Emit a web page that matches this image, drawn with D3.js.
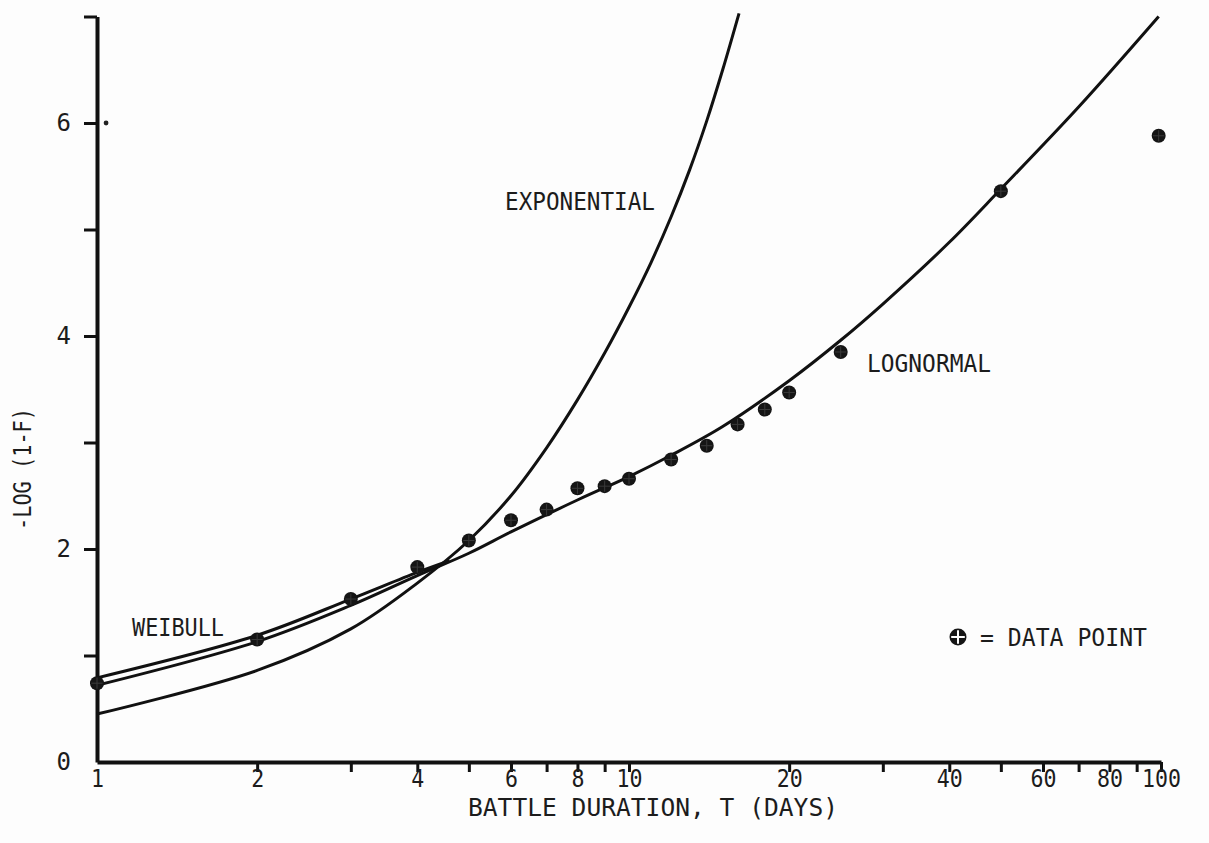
<!DOCTYPE html>
<html>
<head>
<meta charset="utf-8">
<script src="https://cdnjs.cloudflare.com/ajax/libs/d3/7.8.5/d3.min.js"></script>
<style>
  html, body { margin: 0; padding: 0; background: #fdfdfd; }
  svg { display: block; }
  text { font-family: "DejaVu Sans Mono", monospace; fill: #1c1c1c; }
</style>
</head>
<body>
<svg id="chart" width="1209" height="843"></svg>
<script>
// axis ticks and labels
var xTicks = [1, 2, 3, 4, 5, 6, 7, 8, 9, 10, 20, 30, 40, 50, 60, 70, 80, 90, 100];
var xLabels = [1, 2, 4, 6, 8, 10, 20, 40, 60, 80, 100];
var yTicks = [0, 1, 2, 3, 4, 5, 6, 7];
var yLabels = [0, 2, 4, 6];

// fitted curves, [T days, -log(1-F)]
var exponential = [[1, 0.45], [2, 0.86], [3, 1.25], [4, 1.68], [5, 2.08], [6, 2.50], [7, 2.95],
  [8, 3.40], [9, 3.84], [10, 4.27], [11, 4.69], [12, 5.12], [13, 5.56], [14, 6.02], [15, 6.50], [16.1, 7.03]];
var lognormal = [[1, 0.72], [2, 1.13], [3, 1.47], [4, 1.75], [5, 1.96], [6, 2.16], [8, 2.46], [10, 2.68],
  [12, 2.88], [15, 3.15], [20, 3.58], [25, 3.96], [30, 4.30], [40, 4.88], [50, 5.38], [70, 6.15], [99, 7.0]];
var weibull = [[1, 0.79], [2, 1.19], [3, 1.53], [4, 1.78], [4.6, 1.89]];

// observed battles
var dataPoints = [[1, 0.74], [2, 1.15], [3, 1.53], [4, 1.83], [5, 2.08], [6, 2.27], [7, 2.37], [8, 2.57],
  [9, 2.59], [10, 2.66], [12, 2.84], [14, 2.97], [16, 3.17], [18, 3.31], [20, 3.47], [25, 3.85],
  [50, 5.36], [99, 5.88]];
var strayDots = [[1.04, 6.0]];

var svg = d3.select('#chart');

var x = d3.scaleLog().domain([1, 100]).range([97, 1161]);
var y = d3.scaleLinear().domain([0, 7]).range([762, 16.5]);

var fmt = function (list) {
  return function (d) { return list.indexOf(d) >= 0 ? String(d) : ''; };
};

// x axis
var xAxis = svg.append('g')
  .attr('transform', 'translate(0,' + y(0) + ')')
  .call(d3.axisBottom(x).tickValues(xTicks).tickFormat(fmt(xLabels)).tickSize(10).tickSizeOuter(0));

xAxis.select('.domain').attr('stroke', '#111').attr('stroke-width', 4);
xAxis.selectAll('.tick line').attr('stroke', '#111').attr('stroke-width', 3)
  .filter(function (d) { return d === 1; }).remove();
xAxis.selectAll('.tick text')
  .attr('y', 25)
  .attr('dy', 0)
  .attr('fill', '#1c1c1c')
  .style('font-size', '25px')
  .attr('textLength', function (d) { return String(d).length * 13; })
  .attr('lengthAdjust', 'spacingAndGlyphs')
  .filter(function (d) { return xLabels.indexOf(d) < 0; }).remove();

// y axis
var yAxis = svg.append('g')
  .attr('transform', 'translate(' + x(1) + ',0)')
  .call(d3.axisLeft(y).tickValues(yTicks).tickFormat(fmt(yLabels)).tickSize(13).tickPadding(13).tickSizeOuter(0));

yAxis.select('.domain').attr('stroke', '#111').attr('stroke-width', 4);
yAxis.selectAll('.tick line').attr('stroke', '#111').attr('stroke-width', 3)
  .filter(function (d) { return d === 0; }).remove();
yAxis.selectAll('.tick text')
  .attr('fill', '#1c1c1c')
  .style('font-size', '24px');

// axis titles
svg.append('text')
  .attr('x', 468)
  .attr('y', 816)
  .attr('textLength', 370)
  .attr('lengthAdjust', 'spacingAndGlyphs')
  .style('font-size', '24px')
  .text('BATTLE DURATION, T (DAYS)');

svg.append('text')
  .attr('transform', 'translate(31,530) rotate(-90)')
  .attr('textLength', 122)
  .attr('lengthAdjust', 'spacingAndGlyphs')
  .style('font-size', '24px')
  .text('-LOG (1-F)');

// curves
var line = d3.line()
  .x(function (d) { return x(d[0]); })
  .y(function (d) { return y(d[1]); })
  .curve(d3.curveCatmullRom.alpha(0.5));

[exponential, lognormal, weibull].forEach(function (series) {
  svg.append('path')
    .datum(series)
    .attr('fill', 'none')
    .attr('stroke', '#111')
    .attr('stroke-width', 3)
    .attr('d', line);
});

// curve labels
var labelStyle = function (sel, len) {
  sel.style('font-size', '25px')
    .attr('textLength', len)
    .attr('lengthAdjust', 'spacingAndGlyphs');
};

svg.append('text').attr('x', 505).attr('y', 210).call(labelStyle, 150).text('EXPONENTIAL');
svg.append('text').attr('x', 867).attr('y', 372).call(labelStyle, 124).text('LOGNORMAL');
svg.append('text').attr('x', 132).attr('y', 636).call(labelStyle, 92).text('WEIBULL');

// data point marker: dark disc with a faint cross
var marker = function (g, r, crossColor, crossWidth) {
  g.append('circle')
    .attr('r', r)
    .attr('fill', '#151515');
  g.append('path')
    .attr('d', 'M' + (-r * 0.8) + ',0H' + (r * 0.8) + 'M0,' + (-r * 0.8) + 'V' + (r * 0.8))
    .attr('stroke', crossColor)
    .attr('stroke-width', crossWidth);
};

svg.append('g').selectAll('g')
  .data(dataPoints)
  .join('g')
  .attr('transform', function (d) { return 'translate(' + x(d[0]) + ',' + y(d[1]) + ')'; })
  .each(function () { marker(d3.select(this), 7, '#3a3a3a', 1); });

svg.append('g').selectAll('circle')
  .data(strayDots)
  .join('circle')
  .attr('cx', function (d) { return x(d[0]); })
  .attr('cy', function (d) { return y(d[1]); })
  .attr('r', 2.4)
  .attr('fill', '#222');

// legend
var legend = svg.append('g').attr('transform', 'translate(958,637)');
marker(legend, 8.5, '#fdfdfd', 2);
svg.append('text').attr('x', 980).attr('y', 646).call(labelStyle, 167).text('= DATA POINT');
</script>
</body>
</html>
